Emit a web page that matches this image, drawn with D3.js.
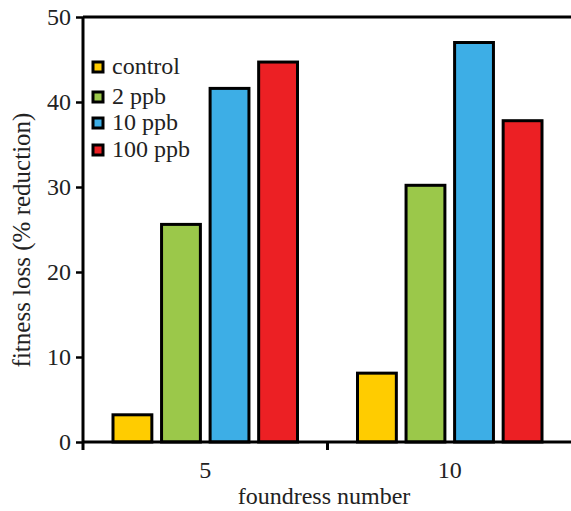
<!DOCTYPE html>
<html lang="en">
<head>
    <meta charset="UTF-8">
    <title>Fitness loss by foundress number</title>
    <script src="https://d3js.org/d3.v7.min.js"></script>
    <style>
        body { margin: 0; background: #fff; }
    </style>
</head>
<body>
    <div id="chart"></div>

    <script>
        // Data
        var groups = ["5", "10"];
        var series = ["control", "2 ppb", "10 ppb", "100 ppb"];
        var values5 = [3.2, 25.6, 41.6, 44.7];
        var values10 = [8.1, 30.2, 47.0, 37.8];
        var yTicks = [0, 10, 20, 30, 40, 50];
        var colors = ["#ffcc00", "#9bc84a", "#3daee6", "#ec2024"];

        var serif = "'Liberation Serif', 'Times New Roman', Times, serif";

        var table = groups.map(function (g, i) {
            var vals = i === 0 ? values5 : values10;
            return { group: g, bars: series.map(function (s, j) { return { key: s, value: vals[j] }; }) };
        });

        var width = 571, height = 511;
        var margin = { top: 17, right: -1, bottom: 69, left: 83 };

        var svg = d3.select("#chart")
            .append("svg")
            .attr("width", width)
            .attr("height", height)
            .attr("font-family", serif);

        // Scales
        var x0 = d3.scaleBand()
            .domain(groups)
            .range([margin.left, width - margin.right])
            .padding(0);

        var x1 = d3.scaleBand()
            .domain(series)
            .range([30, x0.bandwidth() - 30])
            .paddingInner(0.2);

        var y = d3.scaleLinear()
            .domain([0, 50])
            .range([height - margin.bottom, margin.top]);

        var color = d3.scaleOrdinal().domain(series).range(colors);

        // Bars
        var g = svg.selectAll(".group")
            .data(table)
            .enter()
            .append("g")
            .attr("class", "group")
            .attr("transform", function (d) { return "translate(" + x0(d.group) + ",0)"; });

        g.selectAll("rect")
            .data(function (d) { return d.bars; })
            .enter()
            .append("rect")
            .attr("x", function (d) { return x1(d.key); })
            .attr("y", function (d) { return y(d.value); })
            .attr("width", x1.bandwidth())
            .attr("height", function (d) { return y(0) - y(d.value); })
            .attr("fill", function (d) { return color(d.key); })
            .attr("stroke", "#000")
            .attr("stroke-width", 3);

        // Y axis
        var yAxis = svg.append("g")
            .attr("transform", "translate(" + margin.left + ",0)")
            .call(d3.axisLeft(y).tickValues(yTicks).tickSize(7).tickPadding(5));
        yAxis.attr("font-family", null).attr("font-size", null);
        yAxis.select(".domain").attr("stroke-width", 3).attr("d", "M0," + (y(0) + 8) + "V" + y(50));
        yAxis.selectAll(".tick line").attr("stroke-width", 2.5);
        yAxis.selectAll(".tick text")
            .style("font-size", "24px")
            .style("font-family", serif)
            .attr("fill", "#222");

        // Top line
        svg.append("line")
            .attr("x1", margin.left)
            .attr("x2", width)
            .attr("y1", y(50))
            .attr("y2", y(50))
            .attr("stroke", "#000")
            .attr("stroke-width", 3);

        // X axis: ticks at group boundaries, labels at group centres
        var xAxis = svg.append("g")
            .attr("transform", "translate(0," + y(0) + ")");
        xAxis.append("line")
            .attr("x1", margin.left)
            .attr("x2", width)
            .attr("stroke", "#000")
            .attr("stroke-width", 3);
        xAxis.selectAll(".xtick")
            .data(groups.slice(1))
            .enter()
            .append("line")
            .attr("x1", function (d) { return x0(d); })
            .attr("x2", function (d) { return x0(d); })
            .attr("y1", 0)
            .attr("y2", 8)
            .attr("stroke", "#000")
            .attr("stroke-width", 3);
        xAxis.selectAll(".xlabel")
            .data(groups)
            .enter()
            .append("text")
            .attr("x", function (d) { return x0(d) + x0.bandwidth() / 2; })
            .attr("y", 36)
            .attr("text-anchor", "middle")
            .attr("fill", "#222")
            .style("font-family", serif)
            .style("font-size", "24px")
            .text(function (d) { return d; });

        // Axis titles
        svg.append("text")
            .attr("text-anchor", "middle")
            .attr("x", 324)
            .attr("y", 504)
            .attr("fill", "#222")
            .style("font-family", serif)
            .style("font-size", "24px")
            .text("foundress number");

        svg.append("text")
            .attr("text-anchor", "middle")
            .attr("transform", "translate(30,240) rotate(-90)")
            .attr("fill", "#222")
            .style("font-family", serif)
            .style("font-size", "25px")
            .text("fitness loss (% reduction)");

        // Legend
        var legendY = [67, 97, 123, 150];
        var legend = svg.selectAll(".legend")
            .data(series)
            .enter()
            .append("g")
            .attr("class", "legend")
            .attr("transform", function (d, i) { return "translate(93," + legendY[i] + ")"; });

        legend.append("rect")
            .attr("x", 0)
            .attr("y", -5)
            .attr("width", 10)
            .attr("height", 10)
            .attr("fill", function (d) { return color(d); })
            .attr("stroke", "#000")
            .attr("stroke-width", 3);

        legend.append("text")
            .attr("x", 19)
            .attr("y", 7)
            .attr("fill", "#222")
            .style("font-family", serif)
            .style("font-size", "24px")
            .text(function (d) { return d; });
    </script>
</body>
</html>
